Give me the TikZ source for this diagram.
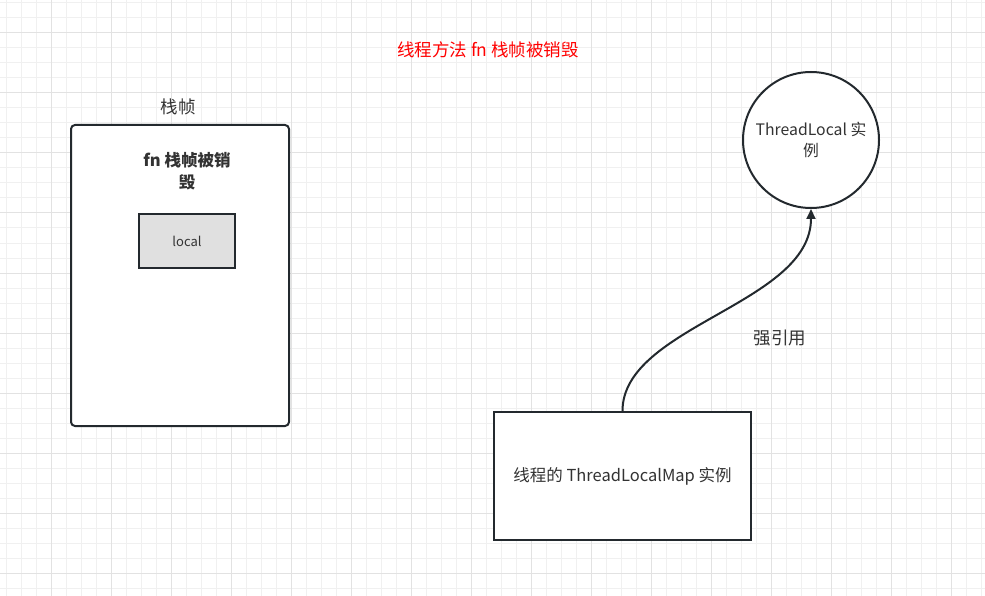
\documentclass[tikz,border=0pt]{standalone}
\usepackage{fontspec}
\setmainfont{Noto Sans CJK SC}
\usetikzlibrary{arrows.meta}
\definecolor{ink}{HTML}{23292E}
\definecolor{txt}{HTML}{333333}
\definecolor{gridminor}{HTML}{F0F0F0}
\definecolor{gridmajor}{HTML}{E2E2E2}
\definecolor{localfill}{HTML}{E0E0E0}
\tikzset{
  shapebox/.style={draw=ink, line width=2pt, inner sep=0pt, fill=white},
  lbl/.style={text=txt, font=\fontsize{17.5}{20}\selectfont, inner sep=0pt},
}
\begin{document}
\begin{tikzpicture}[x=1pt,y=-1pt]
\useasboundingbox (0,0) rectangle (985,596);
\fill[white] (0,0) rectangle (985,596);
\foreach \x in {6,21,...,985} \draw[gridminor,line width=1pt] (\x,0) -- (\x,596);
\foreach \y in {3,18,...,596} \draw[gridminor,line width=1pt] (0,\y) -- (985,\y);
\foreach \x in {51,111,...,985} \draw[gridmajor,line width=1pt] (\x,0) -- (\x,596);
\foreach \y in {33,93,...,596} \draw[gridmajor,line width=1pt] (0,\y) -- (985,\y);

\node[lbl, text=red] (title) at (488,50) {线程方法 fn 栈帧被销毁};
\node[lbl] (framelbl) at (178,107) {栈帧};
\node[shapebox, rounded corners=4pt, minimum width=218, minimum height=301, anchor=north west] (frame) at (70,124) {};
\node[lbl, font=\fontsize{16.5}{22}\selectfont\bfseries, align=center] (fntitle) at (187,171) {fn 栈帧被销\\毁};
\node[shapebox, fill=localfill, minimum width=96, minimum height=54, text=txt, font=\fontsize{13}{15}\selectfont] (local) at (187,241) {local};
\node[shapebox, circle, minimum size=136, lbl, align=center, font=\fontsize{15.8}{21}\selectfont] (tl) at (811,140) {ThreadLocal 实\\例};
\node[shapebox, minimum width=257, minimum height=128, lbl, font=\fontsize{16.5}{20}\selectfont] (map) at (622.5,476) {线程的 ThreadLocalMap 实例};
\draw[ink, line width=2pt, -{Triangle[length=10pt,width=9pt]}] (map.north) .. controls +(0,-85) and +(0,95) .. (tl.south);
\node[lbl] (ref) at (780,338) {强引用};
\end{tikzpicture}
\end{document}
